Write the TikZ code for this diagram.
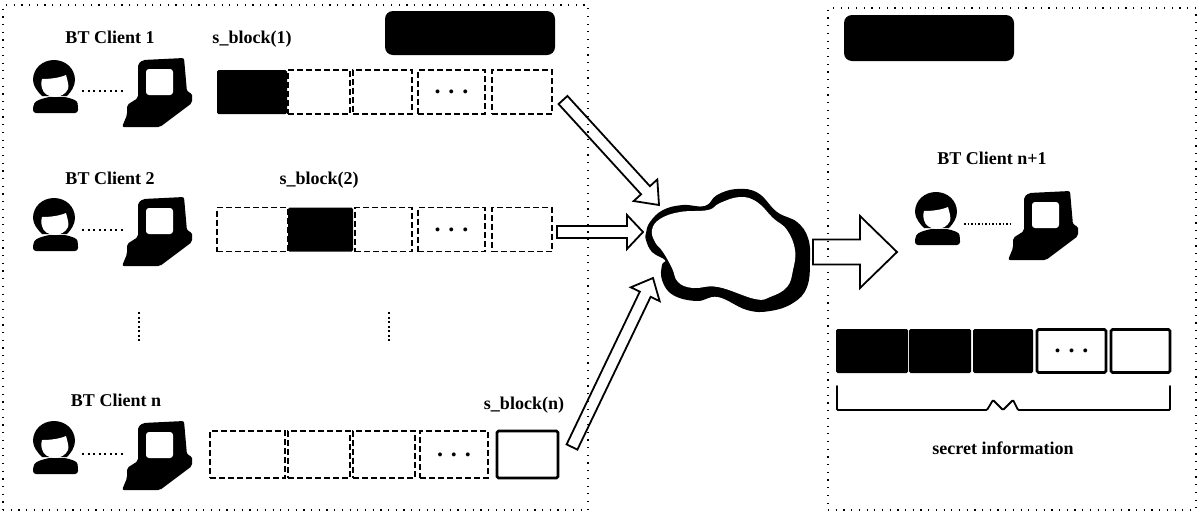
\documentclass[tikz,border=0pt]{standalone}
\usepackage{fontspec}
\setmainfont{Liberation Serif}
\usepackage{tikz}
\usetikzlibrary{calc}
\tikzset{
  panelbox/.style={rectangle,draw=black,line width=1.1pt,dash pattern=on 1.2pt off 6.5pt,inner sep=0pt,outer sep=0pt},
  hiddenbox/.style={rectangle,fill=black,rounded corners=8pt,inner sep=0pt},
  emptycell/.style={rectangle,draw=black,line width=1.5pt,dash pattern=on 6pt off 3pt,fill=white,inner sep=0pt,outer sep=0pt,minimum height=44pt},
  fullcell/.style={rectangle,fill=black,rounded corners=1.5pt,inner sep=0pt,outer sep=0pt,minimum height=44pt},
  solidcell/.style={rectangle,draw=black,line width=2.6pt,rounded corners=1.5pt,fill=white,inner sep=0pt,outer sep=0pt,minimum height=44pt},
  clientlabel/.style={font=\fontsize{18}{20}\selectfont\bfseries,inner sep=0pt,text height=12pt,text depth=4pt},
  cellmark/.style={font=\fontsize{24}{24}\selectfont\bfseries,inner sep=0pt},
  linkdots/.style={draw=black,line width=1.8pt,dash pattern=on 2pt off 3.5pt},
  vdots/.style={draw=black,line width=2pt,dash pattern=on 2pt off 2.5pt},
  blockarrow/.style n args={3}{draw=black,line width=1.8pt,fill=white,
    to path={
      ($(\tikztostart)!#1!90:(\tikztotarget)$)
      -- ($($(\tikztotarget)!#3!(\tikztostart)$)!#1!90:(\tikztotarget)$)
      -- ($($(\tikztotarget)!#3!(\tikztostart)$)!#2!90:(\tikztotarget)$)
      -- (\tikztotarget)
      -- ($($(\tikztotarget)!#3!(\tikztostart)$)!#2!-90:(\tikztotarget)$)
      -- ($($(\tikztotarget)!#3!(\tikztostart)$)!#1!-90:(\tikztotarget)$)
      -- ($(\tikztostart)!#1!-90:(\tikztotarget)$)
      -- cycle}},
  usericon/.pic={
    \fill[black,rounded corners=3pt] (-23,25) -- (-23,18) .. controls (-20,12) and (-14,11) .. (-8,9)
      -- (10,9) .. controls (16,11) and (21,12) .. (22,18) -- (22,25) -- cycle;
    \fill[black] (-23,-8) .. controls (-23,-20) and (-13,-28) .. (-2,-28)
      .. controls (9,-28) and (19,-20) .. (19,-8) .. controls (19,-2) and (15,4) .. (11,8)
      -- (-14,8) .. controls (-18,4) and (-23,-2) .. (-23,-8) -- cycle;
    \fill[white] (-14,-9) .. controls (-6,-9) and (3,-10) .. (10,-13)
      .. controls (12,-6) and (13,-2) .. (12,1) .. controls (10,6) and (4,9) .. (-1,9)
      .. controls (-8,9) and (-13,5) .. (-14,0) .. controls (-15,-4) and (-15,-7) .. (-14,-9) -- cycle;
    \coordinate (-east) at (26,3);
  },
  compicon/.pic={
    \fill[black,rounded corners=2pt] (-15,-32) -- (26,-34) -- (29,0) -- (34,1) -- (34,11) -- (2,35)
      -- (-36,35) -- (-31,23) -- (-31,13) -- (-20,6) -- (-20,-28) -- cycle;
    \fill[white,rounded corners=3pt] (-12,-23) rectangle (15,3);
    \coordinate (-west) at (-33,-1);
  }
}

\begin{document}
\begin{tikzpicture}[x=1pt,y=-1pt]
  \useasboundingbox[fill=white] (0,0) rectangle (1200,515);
  \coordinate (tail1) at (563,100);
  \coordinate (tip1) at (659,205);
  \coordinate (tail2) at (557,232);
  \coordinate (tip2) at (643,232);
  \coordinate (tailn) at (572,447);
  \coordinate (tipn) at (653,278);
  \coordinate (tailout) at (813,252);
  \coordinate (tipout) at (897,252);
  \draw[blockarrow={6pt}{16pt}{20pt}] (tail1) to (tip1);
  \draw[blockarrow={6pt}{17pt}{16pt}] (tail2) to (tip2);
  \draw[blockarrow={6pt}{16pt}{18pt}] (tailn) to (tipn);
  \draw[blockarrow={12.5pt}{36pt}{37pt}] (tailout) to (tipout);
  \node[panelbox,minimum width=585pt,minimum height=505pt] (senders) at (295.5,257.5) {};
  \node[panelbox,minimum width=368pt,minimum height=502pt] (receiver) at (1012,259) {};
  \node[hiddenbox,minimum width=170pt,minimum height=44pt] (hideleft) at (470,33) {};
  \node[hiddenbox,minimum width=170pt,minimum height=46pt] (hideright) at (929,38) {};

  \node[clientlabel] (client1) at (110,39) {BT Client 1};
  \node[clientlabel] (block1) at (252,39) {s\_block(1)};
  \pic (user1) at (56,88) {usericon};
  \pic (comp1) at (158,92) {compicon};
  \draw[linkdots] (comp1-west -| user1-east) -- (comp1-west);
  \node[fullcell,minimum width=70pt] (c11) at (252,92) {};
  \node[emptycell,minimum width=62pt] (c12) at (319,92) {};
  \node[emptycell,minimum width=59pt] (c13) at (382.5,92) {};
  \node[emptycell,minimum width=67pt] (c14) at (451.5,92) {};
  \node[emptycell,minimum width=60pt] (c15) at (522,92) {};
  \node[cellmark] (m1) at (c14) {. . .};

  \node[clientlabel] (client2) at (110,180) {BT Client 2};
  \node[clientlabel] (block2) at (319,180) {s\_block(2)};
  \pic (user2) at (56,226) {usericon};
  \pic (comp2) at (158,231) {compicon};
  \draw[linkdots] (comp2-west -| user2-east) -- (comp2-west);
  \node[emptycell,minimum width=71pt] (c21) at (252.5,229.5) {};
  \node[fullcell,minimum width=65pt] (c22) at (320.5,229.5) {};
  \node[emptycell,minimum width=57pt] (c23) at (383.5,229.5) {};
  \node[emptycell,minimum width=67pt] (c24) at (451.5,229.5) {};
  \node[emptycell,minimum width=60pt] (c25) at (522,229.5) {};
  \node[cellmark] (m2) at (c24) {. . .};

  \coordinate (dotsa) at (139,312);
  \coordinate (dotsb) at (139,342);
  \coordinate (dotsc) at (389,312);
  \coordinate (dotsd) at (389,342);
  \draw[vdots] (dotsa) -- (dotsb);
  \draw[vdots] (dotsc) -- (dotsd);

  \node[clientlabel] (clientn) at (116,402) {BT Client n};
  \node[clientlabel] (blockn) at (524,405) {s\_block(n)};
  \pic (usern) at (56,449) {usericon};
  \pic (compn) at (158,455) {compicon};
  \draw[linkdots] (compn-west -| usern-east) -- (compn-west);
  \node[emptycell,minimum width=75pt,minimum height=47pt] (cn1) at (247.5,454.5) {};
  \node[emptycell,minimum width=62pt,minimum height=47pt] (cn2) at (319,454.5) {};
  \node[emptycell,minimum width=62pt,minimum height=47pt] (cn3) at (384,454.5) {};
  \node[emptycell,minimum width=68pt,minimum height=47pt] (cn4) at (454,454.5) {};
  \node[solidcell,minimum width=61pt,minimum height=47pt] (cn5) at (527.5,454.5) {};
  \node[cellmark] (mn) at (cn4) {. . .};

  \fill[black] plot[smooth cycle,tension=.7] coordinates {(646,233) (650,222) (663,210) (683,205) (705,206)
    (717,195) (737,189) (758,193) (777,212) (797,222) (808,238) (810,260) (807,287) (793,303) (770,311)
    (747,310) (718,297) (697,301) (673,295) (662,280) (662,265) (665,260) (652,252) (646,240)};
  \fill[white] plot[smooth cycle,tension=.7] coordinates {(652,230) (660,219) (680,212) (708,210)
    (720,203) (740,197) (757,202) (773,218) (787,230) (795,250) (793,270) (787,287) (770,297)
    (755,299) (718,287) (693,288) (678,282) (672,268) (663,252) (655,242)};

  \node[clientlabel] (clientm) at (992,160) {BT Client n+1};
  \pic (userm) at (938,220) {usericon};
  \pic (compm) at (1044,225) {compicon};
  \draw[draw=black,line width=1.2pt,dash pattern=on 1.5pt off 2pt] (compm-west -| userm-east) -- (compm-west);

  \node[fullcell,minimum width=72pt] (s1) at (872,351) {};
  \node[fullcell,minimum width=62pt] (s2) at (940,351) {};
  \node[fullcell,minimum width=60pt] (s3) at (1003,351) {};
  \node[solidcell,minimum width=69pt,minimum height=43pt] (s4) at (1071.5,351) {};
  \node[solidcell,minimum width=59pt,minimum height=43pt] (s5) at (1140.5,351) {};
  \node[cellmark] (ms) at (s4) {. . .};
  \draw[line width=1.8pt,line cap=round,rounded corners=1pt] (837,386) -- (837,410) -- (987,410)
    -- (993,400) -- (1003,410) -- (1013,400) -- (1018,410) -- (1170,410) -- (1170,386);
  \node[clientlabel] (secret) at (1003,450) {secret information};
\end{tikzpicture}
\end{document}
